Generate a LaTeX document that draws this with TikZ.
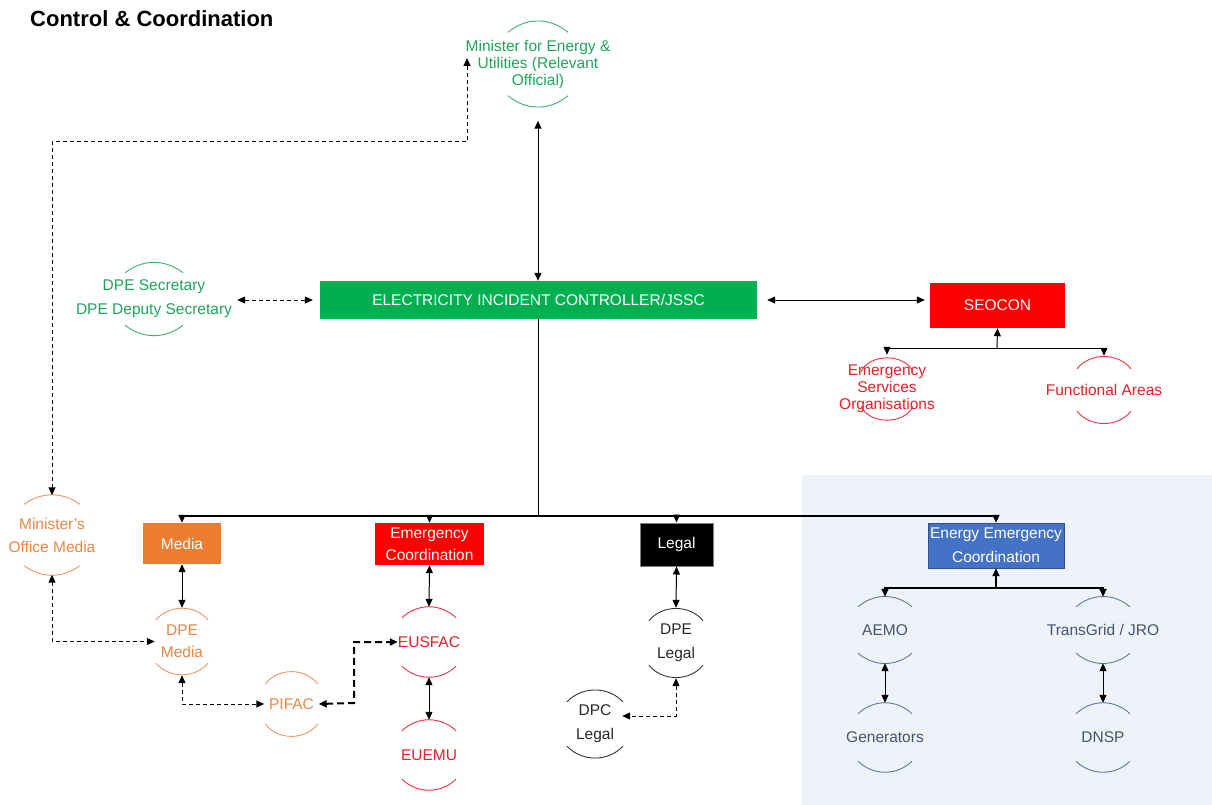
\documentclass[tikz,border=0pt]{standalone}
\usepackage{fontspec}
\setmainfont{Liberation Sans}
\usetikzlibrary{arrows.meta}

\definecolor{ctrlgreen}{RGB}{0,176,80}
\definecolor{txtgreen}{RGB}{30,165,90}
\definecolor{ringgreen}{RGB}{60,175,115}
\definecolor{boxred}{RGB}{255,0,0}
\definecolor{txtred}{RGB}{232,30,40}
\definecolor{ringred}{RGB}{232,50,60}
\definecolor{mediaorange}{RGB}{237,125,49}
\definecolor{txtorange}{RGB}{232,135,70}
\definecolor{ringorange}{RGB}{238,150,95}
\definecolor{txtblack}{RGB}{40,40,40}
\definecolor{ringblack}{RGB}{50,50,50}
\definecolor{eecblue}{RGB}{68,114,196}
\definecolor{eecedge}{RGB}{47,82,143}
\definecolor{txtblue}{RGB}{68,84,106}
\definecolor{ringblue}{RGB}{100,120,150}
\definecolor{panelblue}{RGB}{238,243,250}

\tikzset{
  every node/.style={font=\fontsize{15.5}{23}\selectfont},
  unitbox/.style={rectangle, text=white, align=center, inner sep=0pt},
  ring/.style={rectangle, align=center, inner sep=0pt, minimum width=54pt, minimum height=68pt},
  arcline/.style={line width=0.9pt},
  conn/.style={line width=1pt},
  twoway/.style={conn, {Triangle[length=8pt,width=7pt]}-{Triangle[length=8pt,width=7pt]}},
  oneway/.style={conn, -{Triangle[length=8pt,width=7pt]}},
  dashlink/.style={twoway, dash pattern=on 4pt off 3pt},
  trunk/.style={line width=1.6pt},
}

\begin{document}
\begin{tikzpicture}[x=1pt,y=-1pt]
\useasboundingbox (0,0) rectangle (1212,805);

%% energy panel
\fill[panelblue] (802,475) rectangle (1212,805);

%% title
\node[anchor=west, inner sep=0pt, font=\bfseries\fontsize{22}{26}\selectfont] (title) at (30,19) {Control \& Coordination};

%% control level
\node[ring, text=txtgreen, minimum height=85pt, font=\fontsize{15.5}{17}\selectfont] (minister) at (538,64) {Minister for Energy \&\\Utilities (Relevant\\Official)};
\node[ring, text=txtgreen, minimum height=72pt, font=\fontsize{15.5}{24}\selectfont] (dpesec) at (154,299) {DPE Secretary\\DPE Deputy Secretary};
\node[unitbox, fill=ctrlgreen, minimum width=437pt, minimum height=38pt] (elec) at (538.5,300) {ELECTRICITY INCIDENT CONTROLLER/JSSC};
\node[unitbox, fill=boxred, minimum width=135pt, minimum height=45pt] (seocon) at (997.5,305.5) {SEOCON};
\node[ring, text=txtred, font=\fontsize{15.5}{17}\selectfont] (eso) at (887,389) {Emergency\\Services\\Organisations};
\node[ring, text=txtred] (func) at (1104,390) {Functional Areas};

%% functional units
\node[ring, text=txtorange, minimum height=79pt] (mom) at (52,535) {Minister's\\Office Media};
\node[unitbox, fill=mediaorange, minimum width=78pt, minimum height=41pt] (media) at (182,543.5) {Media};
\node[unitbox, fill=boxred, minimum width=109pt, minimum height=42pt, font=\fontsize{15.5}{22}\selectfont] (emc) at (429.5,544) {Emergency\\Coordination};
\node[unitbox, fill=black, draw=gray, line width=1pt, minimum width=73pt, minimum height=43pt] (legal) at (676.5,544.5) {Legal};
\node[unitbox, fill=eecblue, draw=eecedge, minimum width=136pt, minimum height=45pt, font=\fontsize{15.5}{24}\selectfont] (eec) at (996,545.5) {Energy Emergency\\Coordination};

%% sub units
\node[ring, text=txtorange, minimum height=67pt, font=\fontsize{15.5}{22}\selectfont] (dpemedia) at (182,641.5) {DPE\\Media};
\node[ring, text=txtorange, minimum height=66pt] (pifac) at (291.5,704) {PIFAC};
\node[ring, text=txtred, minimum height=70pt] (eusfac) at (429,642) {EUSFAC};
\node[ring, text=txtred, minimum height=70pt] (euemu) at (429,755) {EUEMU};
\node[ring, text=txtblack, minimum height=70pt, font=\fontsize{15.5}{24}\selectfont] (dpelegal) at (676,643) {DPE\\Legal};
\node[ring, text=txtblack, font=\fontsize{15.5}{24}\selectfont] (dpclegal) at (595,724) {DPC\\Legal};
\node[ring, text=txtblue, minimum height=66pt] (aemo) at (885,630) {AEMO};
\node[ring, text=txtblue, minimum height=66pt] (transgrid) at (1103,630) {TransGrid / JRO};
\node[ring, text=txtblue, minimum height=69pt] (gen) at (885,737.5) {Generators};
\node[ring, text=txtblue, minimum height=69pt] (dnsp) at (1103,737.5) {DNSP};

%% ring arcs
\foreach \n/\a/\d/\c in {minister/30/11/ringgreen, dpesec/29/10/ringgreen, eso/26/17/ringred, func/27/13/ringred, mom/28/9/ringorange, dpemedia/26/12/ringorange, pifac/26/13/ringorange, eusfac/27/11/ringred, euemu/27/11/ringred, dpelegal/27/13/ringblack, dpclegal/28/12/ringblack, aemo/27/10/ringblue, transgrid/27/10/ringblue, gen/27/11/ringblue, dnsp/27/11/ringblue}{
  \pgfmathsetmacro\bend{2*atan(\d/\a)}
  \draw[arcline, \c] (\n.north) ++(-\a,\d) to[bend left=\bend] ++(2*\a,0);
  \draw[arcline, \c] (\n.south) ++(-\a,-\d) to[bend right=\bend] ++(2*\a,0);
}

%% links at control level
\draw[twoway] ([yshift=-14pt]minister.south) -- (minister.south |- elec.north);
\draw[dashlink, shorten <=5pt, shorten >=7pt] (dpesec.east |- elec.west) -- (elec.west);
\draw[twoway, shorten <=10pt, shorten >=5pt] (elec.east) -- (elec.east -| seocon.west);
\coordinate (mturn) at (467,142);
\coordinate (mend) at (467,58);
\draw[dashlink] (mom.north) |- (mturn) -- (mend);

%% seocon tree
\coordinate (seojoin) at (997,348);
\draw[oneway] (seojoin) -- (seocon.south);
\draw[oneway] (seojoin) -| (eso.north);
\draw[oneway] (seojoin) -| (func.north);

%% main trunk
\coordinate (elecjoin) at (538.5,516);
\draw[trunk] (elec.south) -- (elecjoin);
\draw[oneway, trunk] (elecjoin) -| (media.north);
\draw[oneway, trunk] (elecjoin) -| (emc.north);
\draw[oneway, trunk] (elecjoin) -| (legal.north);
\draw[oneway, trunk] (elecjoin) -| (eec.north);

%% media branch
\draw[twoway] (media.south) -- (dpemedia.north);
\draw[dashlink] (mom.south) |- (dpemedia.west);
\draw[dashlink] (dpemedia.south) |- (pifac.west);
\coordinate (pturn) at (354,703);
\draw[dashlink, line width=2pt, dash pattern=on 7pt off 4pt] (pifac.east) -- (pturn) |- (eusfac.west);

%% emergency branch
\draw[twoway] (emc.south) -- (eusfac.north);
\draw[twoway] (eusfac.south) -- (euemu.north);

%% legal branch
\draw[twoway] (legal.south) -- (dpelegal.north);
\draw[dashlink] (dpelegal.south) |- ([yshift=8pt]dpclegal.east);

%% energy branch
\coordinate (eecjoin) at (996,588);
\draw[oneway, trunk] (eecjoin) -- (eec.south);
\draw[oneway, trunk] (eecjoin) -| (aemo.north);
\draw[oneway, trunk] (eecjoin) -| (transgrid.north);
\draw[twoway] (aemo.south) -- (gen.north);
\draw[twoway] (transgrid.south) -- (dnsp.north);
\end{tikzpicture}
\end{document}
